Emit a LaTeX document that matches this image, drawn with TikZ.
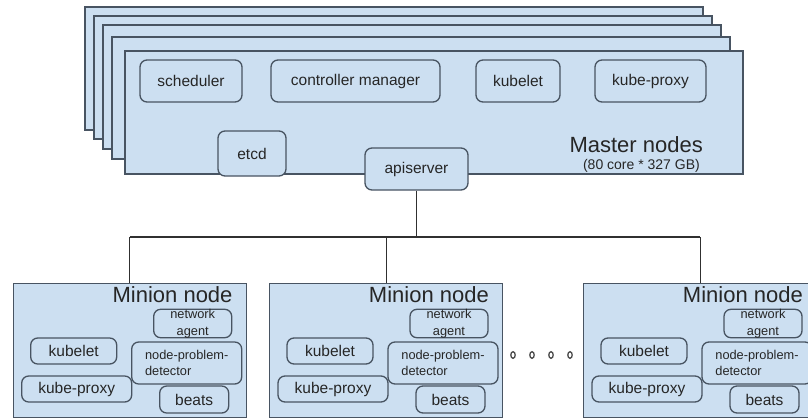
\documentclass[tikz,border=0pt]{standalone}
\usepackage{fontspec}
\setmainfont{Liberation Sans}
\definecolor{panel}{RGB}{204,223,241}
\definecolor{edge}{RGB}{72,84,98}
\definecolor{ink}{RGB}{38,38,38}
\definecolor{wire}{RGB}{48,48,48}

\begin{document}
\begin{tikzpicture}[x=1pt,y=-1pt,
  layer/.style={draw=edge, fill=panel, line width=1.4pt},
  panelnode/.style={layer, inner sep=0pt},
  sz/.style 2 args={minimum width=#1pt, minimum height=#2pt},
  part/.style={draw=edge, fill=panel, line width=1.3pt, rounded corners=7pt,
    inner sep=0pt, text=ink, font=\fontsize{15.5}{18}\selectfont},
  small/.style={part, font=\fontsize{12.8}{15.5}\selectfont},
  tallsmall/.style={part, font=\fontsize{12.8}{16.5}\selectfont},
  title/.style={inner sep=0pt, text=ink, anchor=east, font=\fontsize{22}{24}\selectfont},
  subtitle/.style={inner sep=0pt, text=ink, anchor=east, font=\fontsize{14}{16}\selectfont},
  wirestyle/.style={draw=wire, line width=1.1pt},
  dotring/.style={draw=black!70, line width=1.3pt},
]
\useasboundingbox (0,0) rectangle (808,418);
\fill[white] (0,0) rectangle (808,418);

% stacked master layers, back to front
\draw[layer] (85,7)   rectangle (703,130);
\draw[layer] (94,16)  rectangle (712,139);
\draw[layer] (103,25) rectangle (721,149);
\draw[layer] (112,37) rectangle (730,159);
\node[panelnode, sz={618}{123}] (master) at (434,112.5) {};

% master components
\node[part, sz={102}{42}] (sched)  at (191,81)    {scheduler};
\node[part, sz={169}{42}] (ctrl)   at (355.5,81)  {controller manager};
\node[part, sz={84}{42}]  (mkube)  at (518,81)    {kubelet};
\node[part, sz={111}{42}] (mproxy) at (650.5,81)  {kube-proxy};
\node[part, sz={68}{45}]  (etcd)   at (252,153.5) {etcd};
\node[part, sz={103}{42}] (api)    at (416.5,169) {apiserver};

\node[title]    (mtitle) at (703,145) {Master nodes};
\node[subtitle] (msub)   at (700,166) {(80 core * 327 GB)};

% bus from the apiserver to the minions
\coordinate (busy) at (0,237);

% minion nodes
\foreach \i/\X in {1/12.7, 2/269, 3/583} {
  \node[panelnode, sz={233}{133.5}, anchor=north west] (m\i) at (\X,283) {};
  \node[title] (mt\i) at (\X+220,295) {Minion node};
  \node[tallsmall, sz={78}{27}, align=center] (net\i) at (\X+180,323.5) {network\\agent};
  \node[part, sz={86}{26}]  (kl\i) at (\X+61,351)    {kubelet};
  \node[part, sz={110}{26}] (kp\i) at (\X+64,389)    {kube-proxy};
  \node[small, sz={110}{42}, align=left] (npd\i) at (\X+174,363) {node-problem-\\detector};
  \node[part, sz={69}{27}]  (bt\i) at (\X+181.5,399.5) {beats};
  \draw[wirestyle] (m\i.north |- busy) -- (m\i.north);
}

\draw[wirestyle] (api.south) -- (api.south |- busy);
\draw[wirestyle] (m1.north |- busy) -- (m3.north |- busy);

% ellipsis between the minions
\foreach \x in {513,532,551,570}
  \draw[dotring] (\x,355) ellipse [x radius=2.2pt, y radius=3.3pt];
\end{tikzpicture}
\end{document}
